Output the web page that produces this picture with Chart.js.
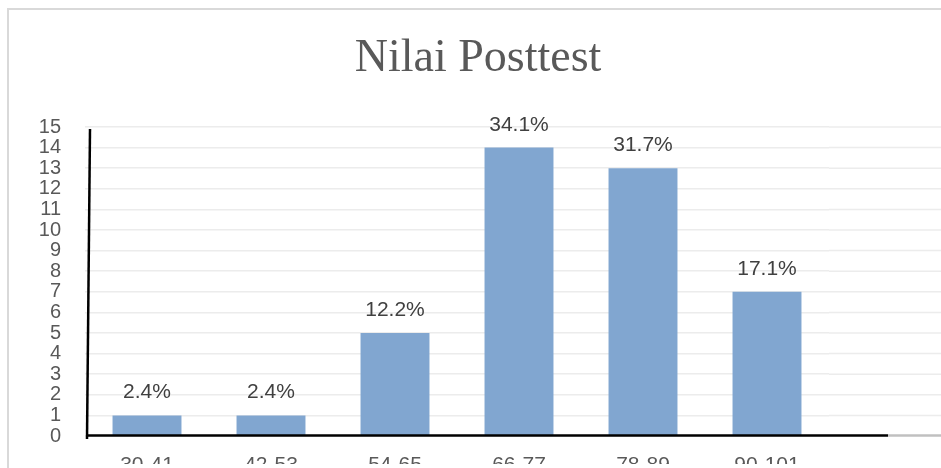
<!DOCTYPE html>
<html>
<head>
<meta charset="utf-8">
<script src="https://cdn.jsdelivr.net/npm/chart.js@4/dist/chart.umd.min.js"></script>
<style>
  html, body { margin: 0; padding: 0; background: #ffffff; overflow: hidden; }
  #wrap { position: relative; width: 941px; height: 468px; overflow: hidden; }
  #c { display: block; }
</style>
</head>
<body>
<div id="wrap"><canvas id="c" width="941" height="472"></canvas></div>
<script>
const categories = ['30-41', '42-53', '54-65', '66-77', '78-89', '90-101'];
const frequencies = [1, 1, 5, 14, 13, 7];
const percentLabels = ['2.4%', '2.4%', '12.2%', '34.1%', '31.7%', '17.1%'];
const yTicks = [0, 1, 2, 3, 4, 5, 6, 7, 8, 9, 10, 11, 12, 13, 14, 15];
const chartTitle = 'Nilai Posttest';

const decor = {
  id: 'decor',
  beforeDraw(chart) {
    const ctx = chart.ctx;
    ctx.save();
    ctx.fillStyle = '#ffffff';
    ctx.fillRect(0, 0, chart.width, chart.height);
    // outer frame (top and left edges visible)
    ctx.fillStyle = '#d9d9d9';
    ctx.fillRect(7, 8, chart.width - 7, 2);
    ctx.fillRect(7, 8, 2, chart.height - 8);
    // title
    ctx.font = '46px "Liberation Serif", "Times New Roman", serif';
    ctx.fillStyle = '#595959';
    ctx.textAlign = 'center';
    ctx.textBaseline = 'alphabetic';
    ctx.fillText(chartTitle, 478, 71);
    ctx.restore();
  },
  beforeDatasetsDraw(chart) {
    const ctx = chart.ctx;
    const a = chart.chartArea;
    const y = chart.scales.y;
    ctx.save();
    // extend horizontal gridlines to the right edge
    ctx.strokeStyle = '#ececec';
    ctx.lineWidth = 1.5;
    yTicks.forEach(v => {
      if (v === 0) return;
      const py = y.getPixelForValue(v);
      ctx.beginPath();
      ctx.moveTo(a.right, py);
      ctx.lineTo(chart.width, py);
      ctx.stroke();
    });
    ctx.restore();
  },
  afterDatasetsDraw(chart) {
    const ctx = chart.ctx;
    const a = chart.chartArea;
    const meta = chart.getDatasetMeta(0);
    ctx.save();
    // data labels
    ctx.font = '21px "Liberation Sans", Arial, sans-serif';
    ctx.fillStyle = '#404040';
    ctx.textAlign = 'center';
    ctx.textBaseline = 'alphabetic';
    meta.data.forEach((bar, i) => {
      ctx.fillText(percentLabels[i], bar.x, bar.y - 17);
    });
    // x axis line: black part then grey continuation
    const axisY = a.bottom - 0.5;
    ctx.lineWidth = 2.5;
    ctx.strokeStyle = '#c0c0c0';
    ctx.beginPath();
    ctx.moveTo(a.right + 59, axisY);
    ctx.lineTo(chart.width, axisY);
    ctx.stroke();
    ctx.strokeStyle = '#000000';
    ctx.beginPath();
    ctx.moveTo(a.left + 1, axisY);
    ctx.lineTo(a.right + 59, axisY);
    ctx.stroke();
    // slightly slanted vertical axis line
    ctx.beginPath();
    ctx.moveTo(a.left + 5, a.top + 2);
    ctx.lineTo(a.left + 2, a.bottom + 3);
    ctx.stroke();
    ctx.restore();
  }
};

new Chart(document.getElementById('c'), {
  type: 'bar',
  data: {
    labels: categories,
    datasets: [{
      data: frequencies,
      backgroundColor: '#81a6d0',
      borderWidth: 0,
      categoryPercentage: 1,
      barPercentage: 0.556
    }]
  },
  options: {
    responsive: false,
    devicePixelRatio: 1,
    animation: false,
    layout: { padding: { left: 0, right: 112, top: 127, bottom: 0 } },
    plugins: {
      legend: { display: false },
      tooltip: { enabled: false },
      title: { display: false }
    },
    scales: {
      x: {
        grid: { display: false, drawTicks: false },
        border: { display: false },
        ticks: {
          color: '#595959',
          font: { family: '"Liberation Sans", Arial, sans-serif', size: 21 },
          padding: 17
        },
        afterFit(scale) { scale.height = 28; }
      },
      y: {
        min: 0,
        max: 15,
        grid: { color: '#ececec', lineWidth: 1.5, drawTicks: false },
        border: { display: false },
        afterBuildTicks(scale) { scale.ticks = yTicks.map(v => ({ value: v })); },
        ticks: {
          color: '#595959',
          font: { family: '"Liberation Sans", Arial, sans-serif', size: 20 },
          padding: 24,
          autoSkip: false
        },
        afterFit(scale) { scale.width = 85; }
      }
    }
  },
  plugins: [decor]
});
</script>
</body>
</html>
